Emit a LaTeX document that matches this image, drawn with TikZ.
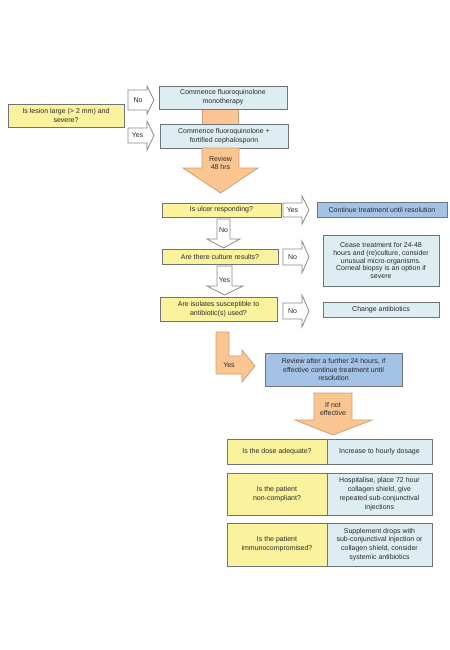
\documentclass[tikz,border=0pt]{standalone}
\usepackage{fontspec}
\setmainfont{Liberation Sans}
\definecolor{yel}{HTML}{FAF29C}
\definecolor{lblue}{HTML}{DDEDF1}
\definecolor{mblue}{HTML}{A3C2E6}
\definecolor{orangef}{HTML}{FAC590}
\definecolor{orangeb}{HTML}{C9A27A}
\definecolor{bordergray}{HTML}{6F7478}
\definecolor{arrgray}{HTML}{8A8A8A}
\definecolor{textc}{HTML}{2A2A2A}
\begin{document}
\begin{tikzpicture}[x=0.75pt,y=-0.75pt,
  txt/.style={font=\fontsize{5.25}{6.6}\selectfont, text=textc, align=center},
  box/.style={txt, draw=bordergray, line width=0.6pt, inner sep=0pt},
  ybox/.style={box, fill=yel},
  lbox/.style={box, fill=lblue},
  mbox/.style={box, fill=mblue},
  warrow/.style={draw=arrgray, fill=white, line width=0.6pt, line join=miter},
  oarrow/.style={draw=orangeb, fill=orangef, line width=0.6pt, line join=miter},
  lbl/.style={txt, inner sep=0pt}]
\fill[white] (0,0) rectangle (450,650);
\useasboundingbox (0,0) rectangle (450,650);

% top section
\node[ybox, minimum width=87pt, minimum height=17.25pt] (lesion) at (66,115.5) {Is lesion large (> 2 mm) and\\severe?};
\draw[oarrow] (202,109) rectangle (238,124);
\node[lbox, minimum width=96pt, minimum height=17.25pt] (mono) at (223,97.5) {Commence fluoroquinolone\\monotherapy};
\node[lbox, minimum width=96pt, minimum height=18pt] (fort) at (224,136) {Commence fluoroquinolone +\\fortified cephalosporin};

\draw[warrow] (128,90) -- (147,90) -- (147,86) -- (154,100) -- (147,114) -- (147,110) -- (128,110) -- cycle;
\node[lbl] (no1) at (138,100) {No};
\draw[warrow] (128,128) -- (147,128) -- (147,121) -- (154,135.5) -- (147,150) -- (147,143) -- (128,143) -- cycle;
\node[lbl] (yes1) at (137.5,135.5) {Yes};

\draw[oarrow] (202,148) -- (239,148) -- (239,168) -- (258,168) -- (220.5,193) -- (183,168) -- (202,168) -- cycle;
\node[lbl] (rev48) at (220.5,163) {Review\\48 hrs};

% middle section
\node[ybox, minimum width=89.25pt, minimum height=10.5pt] (ulcer) at (221.5,210) {Is ulcer responding?};
\node[mbox, minimum width=97.5pt, minimum height=11.25pt] (cont) at (382,209.5) {Continue treatment until resolution};
\draw[warrow] (283,203) -- (302,203) -- (302,196) -- (309,210) -- (302,224) -- (302,217) -- (283,217) -- cycle;
\node[lbl] (yes2) at (292.5,210) {Yes};

\draw[warrow] (217,219) -- (230,219) -- (230,239) -- (240,239) -- (223.5,248) -- (207,239) -- (217,239) -- cycle;
\node[lbl] (no2) at (223.5,230) {No};

\node[ybox, minimum width=87pt, minimum height=11.25pt] (culture) at (220,256.5) {Are there culture results?};
\draw[warrow] (283,249) -- (302,249) -- (302,241) -- (309,257) -- (302,273) -- (302,265) -- (283,265) -- cycle;
\node[lbl] (no3) at (292.5,257) {No};
\node[lbox, minimum width=87pt, minimum height=38.25pt, font=\fontsize{5.25}{5.95}\selectfont] (cease) at (381,260.5) {Cease treatment for 24-48\\hours and (re)culture, consider\\unusual micro-organisms.\\Corneal biopsy is an option if\\severe};

\draw[warrow] (217,266) -- (232,266) -- (232,286) -- (243,286) -- (224.5,295) -- (207,286) -- (217,286) -- cycle;
\node[lbl] (yes3) at (224.5,280) {Yes};

\node[ybox, minimum width=87.75pt, minimum height=18pt] (isol) at (218.5,309) {Are isolates susceptible to\\antibiotic(s) used?};
\draw[warrow] (283,303) -- (302,303) -- (302,295) -- (309,311) -- (302,327) -- (302,319) -- (283,319) -- cycle;
\node[lbl] (no4) at (292.5,311) {No};
\node[lbox, minimum width=87pt, minimum height=11.25pt] (change) at (381,309.5) {Change antibiotics};

\draw[oarrow] (216,332) -- (229,332) -- (229,356) -- (242,356) -- (242,350) -- (255,366) -- (242,382) -- (242,374) -- (216,374) -- cycle;
\node[lbl] (yes4) at (229,365) {Yes};

\node[mbox, minimum width=102.75pt, minimum height=24.75pt] (rev24) at (333.5,369.5) {Review after a further 24 hours, if\\effective continue treatment until\\resolution};

\draw[oarrow] (314,393) -- (352,393) -- (352,420) -- (372,420) -- (333,435) -- (295,420) -- (314,420) -- cycle;
\node[lbl] (noteff) at (333,409) {If not\\effective};

% bottom table
\node[ybox, minimum width=75pt, minimum height=18.75pt] (dose) at (277,451.5) {Is the dose adequate?};
\node[lbox, minimum width=78.75pt, minimum height=18.75pt] (hourly) at (379.5,451.5) {Increase to hourly dosage};
\node[ybox, minimum width=75pt, minimum height=31.5pt] (noncomp) at (277,494) {Is the patient\\non-compliant?};
\node[lbox, minimum width=78.75pt, minimum height=31.5pt] (hosp) at (379.5,494) {Hospitalise, place 72 hour\\collagen shield, give\\repeated sub-conjunctival\\injections};
\node[ybox, minimum width=75pt, minimum height=32.25pt] (immuno) at (277,544.5) {Is the patient\\immunocompromised?};
\node[lbox, minimum width=78.75pt, minimum height=32.25pt] (supp) at (379.5,544.5) {Supplement drops with\\sub-conjunctival injection or\\collagen shield, consider\\systemic antibiotics};
\end{tikzpicture}
\end{document}
